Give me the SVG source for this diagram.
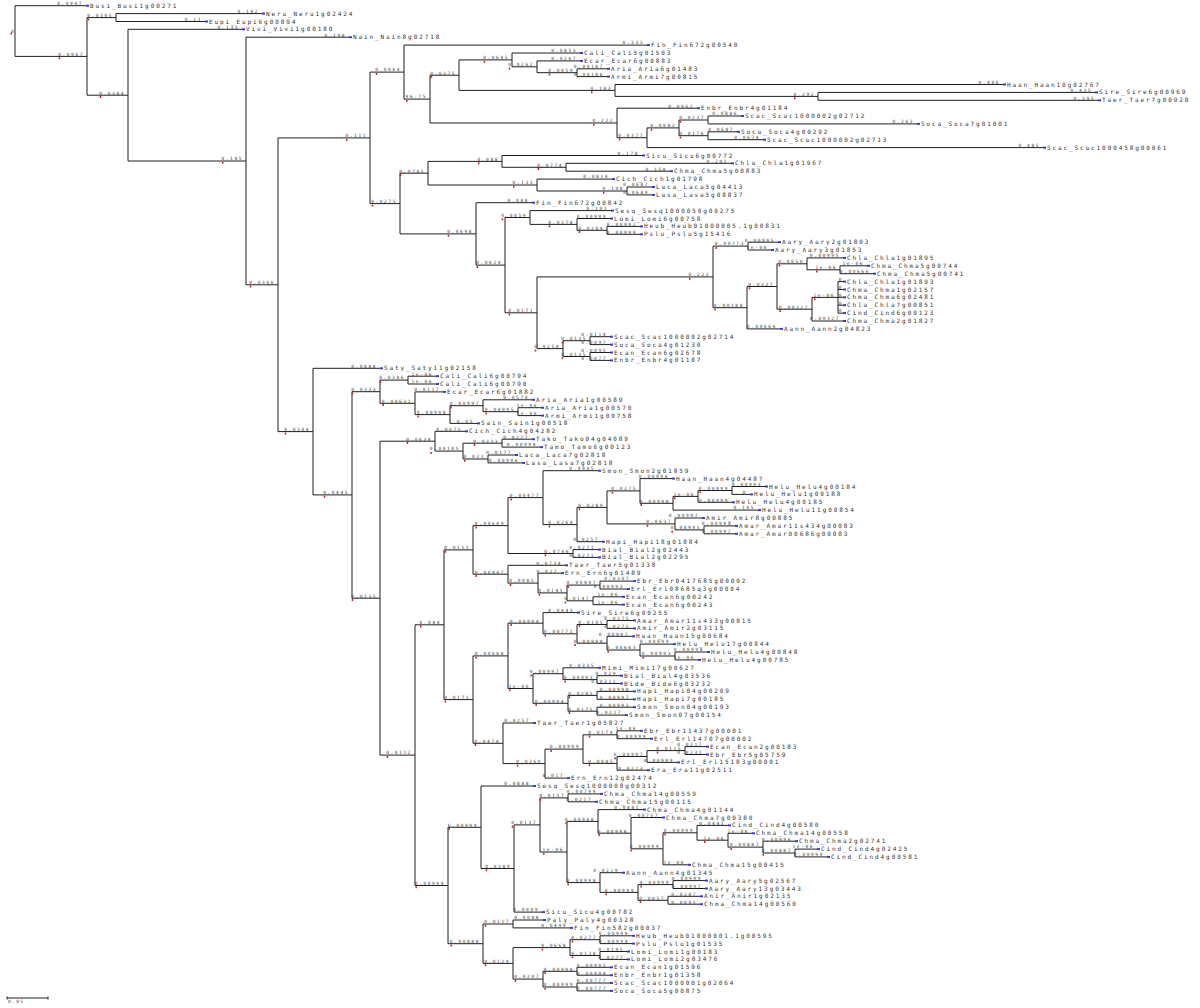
<svg xmlns="http://www.w3.org/2000/svg" width="1200" height="1008" viewBox="0 0 1200 1008">
<style>
.e{fill:none;stroke:#1e1e1e;stroke-width:1}
.rt{fill:#d42020}
.lf text{font-family:"DejaVu Sans Mono","Liberation Mono",monospace;font-size:6px;letter-spacing:1.9px;fill:#333}
.lb text{font-family:"DejaVu Sans Mono","Liberation Mono",monospace;font-size:4.5px;letter-spacing:1.6px;fill:#444;text-anchor:end}
.sc{font-family:"DejaVu Sans Mono","Liberation Mono",monospace;font-size:4.5px;letter-spacing:1.4px;fill:#444}
</style>
<defs><rect id="bm" width="3" height="2" fill="#3a3ad6"/></defs>
<rect width="1200" height="1008" fill="#fff"/>
<g id="connectors">
<path class="e" d="M15 5.7V56.4M87 17.6V95.2M116 13.6V21.5M128 29.3V161M246 37.2V284.8M278 137.9V431.6M370 72.1V203.6M404 45.1V99.1M430 75.2V123M459 59.9V90.4M512 53V66.8M537 60.9V72.7M577 68.8V76.6M615 84.5V96.4M818 92.4V100.3M617 108.2V137.7M647 127.9V147.6M679 120V135.7M708 116V123.9M708 131.8V139.7M400 173.2V233.9M428 161.4V185M502 155.5V167.3M566 163.3V171.2M537 179.1V191M627 187V194.9M476 202.7V265.1M505 217.5V312.8M530 210.6V224.4M577 218.5V230.3M607 226.4V234.3M537 276.9V348.6M713 246.1V307.7M748 242.2V250M747 286.5V328.9M777 263.8V309.2M807 257.9V269.8M840 265.8V273.7M812 297.4V321M838 281.6V313.1M563 340.7V356.5M590 336.7V344.6M590 352.5V360.4"/>
<path class="e" d="M313 368.3V494.9M352 391.7V598.2M380 380.1V403.3M408 376.2V384M415 391.9V414.6M450 405.7V423.4M483 399.8V411.7M518 407.7V415.6M380 441.2V755.1M435 431.3V451.1M463 443.2V459M502 439.2V447.1M488 455V462.9M415 624.8V885.5M444 549.9V699.6M473 525.6V574.2M508 497.6V553.5M543 470.7V524.6M577 507.4V541.7M607 490.9V523.9M640 478.6V503.3M673 496.4V510.1M698 490.5V502.3M732 486.5V494.4M675 518V529.9M704 525.9V533.8M573 549.6V557.4M508 565.3V583.1M538 573.2V592.9M567 585.1V600.8M600 581.1V589M593 596.8V604.7M473 655.9V743.3M508 623.2V688.5M543 612.6V633.8M577 624.5V643.2M607 620.5V628.4M607 636.3V650M640 644.1V656M675 652V659.9M533 673.7V703.3M563 667.8V679.6M597 675.7V683.5M568 695.4V711.2M597 691.4V699.3M597 707.2V715.1M503 723V763.6M545 749.1V778.1M583 734.8V763.4M617 730.8V738.7M617 756.5V770.2M647 750.6V762.4M685 746.6V754.5"/>
<path class="e" d="M448 827.3V943.7M481 786V868.5M514 824.9V912.1M540 797.9V852M568 793.9V801.8M567 821.4V882.6M598 809.6V833.2M631 817.5V848.8M663 832.8V864.8M697 825.4V840.2M728 833.3V847.1M763 841.2V853M795 849.1V856.9M600 872.7V892.4M638 884.6V900.3M673 880.6V888.5M668 896.3V904.2M483 924V963.4M513 920V927.9M513 947.6V979.1M570 939.7V955.5M600 935.8V943.6M600 951.5V959.4M543 971.3V987M577 967.3V975.2M577 983V990.9"/>
<path class="e" d="M15 5.7H86M15 56.4H87M87 17.6H116M116 13.6H262M116 21.5H205M87 95.2H128M128 29.3H242M128 161H246M246 37.2H349M246 284.8H278M278 137.9H370M370 72.1H404M404 45.1H647M404 99.1H430M430 75.2H459M459 59.9H512M512 53H580M512 66.8H537M537 60.9H580M537 72.7H577M577 68.8H607M577 76.6H607M459 90.4H615M615 84.5H1003M615 96.4H818M818 92.4H1095M818 100.3H1098M430 123H617M617 108.2H697M617 137.7H647M647 127.9H679M679 120H708M708 116H741M708 123.9H917M679 135.7H708M708 131.8H737M708 139.7H763M647 147.6H1043"/>
<path class="e" d="M370 203.6H400M400 173.2H428M428 161.4H502M502 155.5H642M502 167.3H566M566 163.3H731M566 171.2H670M428 185H537M537 179.1H612M537 191H627M627 187H652M627 194.9H652M400 233.9H476M476 202.7H532M476 265.1H505M505 217.5H530M530 210.6H611M530 224.4H577M577 218.5H610M577 230.3H607M607 226.4H640M607 234.3H640M505 312.8H537M537 276.9H713M713 246.1H748M748 242.2H778M748 250H771M713 307.7H747M747 286.5H777M777 263.8H807M807 257.9H843M807 269.8H840M840 265.8H867M840 273.7H873M777 309.2H812M812 297.4H838M838 281.6H843M838 289.5H843M838 297.3H843M838 305.2H843M838 313.1H843M812 321H843M747 328.9H780M537 348.6H563M563 340.7H590M590 336.7H610M590 344.6H610M563 356.5H590M590 352.5H610M590 360.4H610"/>
<path class="e" d="M278 431.6H313M313 368.3H380M313 494.9H352M352 391.7H380M380 380.1H408M408 376.2H436M408 384H436M380 403.3H415M415 391.9H443M415 414.6H450M450 405.7H483M483 399.8H532M483 411.7H518M518 407.7H541M518 415.6H541M450 423.4H477M352 598.2H380M380 441.2H435M435 431.3H465M435 451.1H463M463 443.2H502M502 439.2H532M502 447.1H540M463 459H488M488 455H515M488 462.9H522"/>
<path class="e" d="M380 755.1H415M415 624.8H444M444 549.9H473M473 525.6H508M508 497.6H543M543 470.7H598M543 524.6H577M577 507.4H607M607 490.9H640M640 478.6H672M640 503.3H673M673 496.4H698M698 490.5H732M732 486.5H765M732 494.4H750M698 502.3H732M673 510.1H758M607 523.9H675M675 518H702M675 529.9H704M704 525.9H735M704 533.8H735M577 541.7H602M508 553.5H573M573 549.6H598M573 557.4H598M473 574.2H508M508 565.3H565M508 583.1H538M538 573.2H561M538 592.9H567M567 585.1H600M600 581.1H633M600 589H627M567 600.8H593M593 596.8H622M593 604.7H622"/>
<path class="e" d="M444 699.6H473M473 655.9H508M508 623.2H543M543 612.6H577M543 633.8H577M577 624.5H607M607 620.5H633M607 628.4H633M577 643.2H607M607 636.3H632M607 650H640M640 644.1H673M640 656H675M675 652H707M675 659.9H698M508 688.5H533M533 673.7H563M563 667.8H598M563 679.6H597M597 675.7H620M597 683.5H620M533 703.3H568M568 695.4H597M597 691.4H633M597 699.3H633M568 711.2H597M597 707.2H633M597 715.1H625M473 743.3H503M503 723H533M503 763.6H545M545 749.1H583M583 734.8H617M617 730.8H640M617 738.7H650M583 763.4H617M617 756.5H647M647 750.6H685M685 746.6H706M685 754.5H706M647 762.4H677M617 770.2H647M545 778.1H567"/>
<path class="e" d="M415 885.5H448M448 827.3H481M481 786H533M481 868.5H514M514 824.9H540M540 797.9H568M568 793.9H600M568 801.8H595M540 852H567M567 821.4H598M598 809.6H643M598 833.2H631M631 817.5H662M631 848.8H663M663 832.8H697M697 825.4H728M697 840.2H728M728 833.3H752M728 847.1H763M763 841.2H795M763 853H795M795 849.1H817M795 856.9H827M663 864.8H688M567 882.6H600M600 872.7H622M600 892.4H638M638 884.6H673M673 880.6H705M673 888.5H705M638 900.3H668M668 896.3H700M668 904.2H700M514 912.1H542M448 943.7H483M483 924H513M513 920H543M513 927.9H570M483 963.4H513M513 947.6H570M570 939.7H600M600 935.8H632M600 943.6H632M570 955.5H600M600 951.5H627M600 959.4H627M513 979.1H543M543 971.3H577M577 967.3H610M577 975.2H610M543 987H577M577 983H610M577 990.9H610"/>
<path class="rt" d="M10.5 32.5h1.5v2h-1.5zM58.7 57.2h1.5v2h-1.5zM87.7 18.4h1.5v2h-1.5zM99.7 96h1.5v2h-1.5zM222 161.8h1.5v2h-1.5zM249.7 285.6h1.5v2h-1.5zM346 138.7h1.5v2h-1.5zM375.7 72.9h1.5v2h-1.5zM406 99.9h1.5v2h-1.5zM430.7 76h1.5v2h-1.5zM483.7 60.7h1.5v2h-1.5zM508.7 67.6h1.5v2h-1.5zM548.7 73.5h1.5v2h-1.5zM591 91.2h1.5v2h-1.5zM794 97.2h1.5v2h-1.5zM593 123.8h1.5v2h-1.5zM618.7 138.5h1.5v2h-1.5zM650.7 128.7h1.5v2h-1.5zM679.7 120.8h1.5v2h-1.5zM679.7 136.5h1.5v2h-1.5zM371.7 204.4h1.5v2h-1.5zM399.7 174h1.5v2h-1.5zM478 162.2h1.5v2h-1.5zM537.7 168.1h1.5v2h-1.5zM513 185.8h1.5v2h-1.5zM603 191.8h1.5v2h-1.5zM447.7 234.7h1.5v2h-1.5zM476.7 265.9h1.5v2h-1.5zM501.7 218.3h1.5v2h-1.5zM548.7 225.2h1.5v2h-1.5zM578.7 231.1h1.5v2h-1.5zM508.7 313.6h1.5v2h-1.5zM689 277.7h1.5v2h-1.5zM715.4 246.9h1.5v2h-1.5zM714.4 308.5h1.5v2h-1.5zM748.7 287.3h1.5v2h-1.5zM778.7 264.6h1.5v2h-1.5zM816 270.6h1.5v2h-1.5zM779.4 310h1.5v2h-1.5zM814 298.2h1.5v2h-1.5zM534.7 349.4h1.5v2h-1.5zM561.7 341.5h1.5v2h-1.5zM561.7 357.3h1.5v2h-1.5zM284.7 432.4h1.5v2h-1.5zM323.7 495.7h1.5v2h-1.5zM351.7 392.5h1.5v2h-1.5zM379.7 380.9h1.5v2h-1.5zM382.4 404.1h1.5v2h-1.5zM417.4 415.4h1.5v2h-1.5zM450.4 406.5h1.5v2h-1.5zM485.4 412.5h1.5v2h-1.5zM351.7 599h1.5v2h-1.5zM406.7 442h1.5v2h-1.5zM430.4 451.9h1.5v2h-1.5zM473.7 444h1.5v2h-1.5zM464 459.8h1.5v2h-1.5zM386.7 755.9h1.5v2h-1.5zM420 625.6h1.5v2h-1.5zM444.7 550.7h1.5v2h-1.5zM475.4 526.4h1.5v2h-1.5zM510.4 498.4h1.5v2h-1.5zM548.7 525.4h1.5v2h-1.5zM578.7 508.2h1.5v2h-1.5zM611.7 491.7h1.5v2h-1.5zM640.4 504.1h1.5v2h-1.5zM674 497.2h1.5v2h-1.5zM699.4 491.3h1.5v2h-1.5zM646.7 524.7h1.5v2h-1.5zM671.4 530.7h1.5v2h-1.5zM544.7 554.3h1.5v2h-1.5zM475.4 575h1.5v2h-1.5zM509.7 583.9h1.5v2h-1.5zM538.7 593.7h1.5v2h-1.5zM567.4 585.9h1.5v2h-1.5zM564.7 601.6h1.5v2h-1.5zM444.7 700.4h1.5v2h-1.5zM475.4 656.7h1.5v2h-1.5zM510.4 624h1.5v2h-1.5zM544.4 634.6h1.5v2h-1.5zM578.7 625.3h1.5v2h-1.5zM574.4 644h1.5v2h-1.5zM607.4 650.8h1.5v2h-1.5zM642.4 656.8h1.5v2h-1.5zM509 689.3h1.5v2h-1.5zM530.4 674.5h1.5v2h-1.5zM564.4 680.4h1.5v2h-1.5zM535.4 704.1h1.5v2h-1.5zM568.7 696.2h1.5v2h-1.5zM568.7 712h1.5v2h-1.5zM474.7 744.1h1.5v2h-1.5zM516.7 764.4h1.5v2h-1.5zM550.4 749.9h1.5v2h-1.5zM588.7 735.6h1.5v2h-1.5zM588.7 764.2h1.5v2h-1.5zM614.4 757.3h1.5v2h-1.5zM656.7 751.4h1.5v2h-1.5zM415.4 886.3h1.5v2h-1.5zM448.4 828.1h1.5v2h-1.5zM485.7 869.3h1.5v2h-1.5zM511.7 825.7h1.5v2h-1.5zM539.7 798.7h1.5v2h-1.5zM543 852.8h1.5v2h-1.5zM565.4 822.2h1.5v2h-1.5zM598.4 834h1.5v2h-1.5zM630.4 849.6h1.5v2h-1.5zM664.4 833.6h1.5v2h-1.5zM704 841h1.5v2h-1.5zM730.4 847.9h1.5v2h-1.5zM762.4 853.8h1.5v2h-1.5zM567.4 883.4h1.5v2h-1.5zM605.4 893.2h1.5v2h-1.5zM640.4 885.4h1.5v2h-1.5zM639.7 901.1h1.5v2h-1.5zM450.4 944.5h1.5v2h-1.5zM484.7 924.8h1.5v2h-1.5zM484.7 964.2h1.5v2h-1.5zM541.7 948.4h1.5v2h-1.5zM571.7 940.5h1.5v2h-1.5zM571.7 956.3h1.5v2h-1.5zM514.7 979.9h1.5v2h-1.5zM544.4 972.1h1.5v2h-1.5zM544.4 987.8h1.5v2h-1.5z"/>
</g>
<g id="branch-labels" class="lb">
<text x="11" y="33" style="text-anchor:start">0</text>
<text x="83" y="5">0.0967</text><text x="84" y="55.7">0.0967</text><text x="113" y="16.9">0.0305</text><text x="259" y="12.9">0.182</text><text x="202" y="20.8">0.11</text><text x="125" y="94.5">0.0384</text><text x="239" y="28.6">0.133</text><text x="243" y="160.3">0.145</text><text x="346" y="36.5">0.198</text><text x="275" y="284.1">0.0366</text><text x="367" y="137.2">0.111</text><text x="401" y="71.4">0.0064</text><text x="644" y="44.4">0.333</text><text x="427" y="98.4">96.75</text><text x="456" y="74.5">0.0375</text><text x="509" y="59.2">0.0645</text><text x="577" y="52.3">0.0853</text><text x="534" y="66.1">0.0262</text><text x="577" y="60.2">0.0267</text><text x="574" y="72">0.0459</text><text x="604" y="68.1">0.00187</text><text x="604" y="75.9">0.00186</text><text x="612" y="89.7">0.183</text><text x="1000" y="83.8">0.486</text><text x="815" y="95.7">0.292</text><text x="1092" y="91.7">0.435</text><text x="1095" y="99.6">0.395</text><text x="614" y="122.3">0.222</text><text x="694" y="107.5">0.0962</text><text x="644" y="137">0.0377</text><text x="676" y="127.2">0.0083</text><text x="705" y="119.3">0.0237</text><text x="738" y="115.3">0.0886</text><text x="914" y="123.2">0.262</text><text x="705" y="135">0.0176</text><text x="734" y="131.1">0.0687</text><text x="760" y="139">0.0674</text><text x="1040" y="146.9">0.485</text>
<text x="397" y="202.9">0.0275</text><text x="425" y="172.5">0.0785</text><text x="499" y="160.7">0.088</text><text x="639" y="154.8">0.178</text><text x="563" y="166.6">0.0774</text><text x="728" y="162.6">0.201</text><text x="667" y="170.5">0.158</text><text x="534" y="184.3">0.133</text><text x="609" y="178.4">0.0814</text><text x="624" y="190.3">0.108</text><text x="649" y="186.3">0.0687</text><text x="649" y="194.2">0.0689</text><text x="473" y="233.2">0.0698</text><text x="529" y="202">0.088</text><text x="502" y="264.4">0.0624</text><text x="527" y="216.8">0.0059</text><text x="608" y="209.9">0.101</text><text x="574" y="223.7">0.0378</text><text x="607" y="217.8">0.00999</text><text x="604" y="229.6">0.0209</text><text x="637" y="225.7">0.00992</text><text x="637" y="233.6">0.00999</text><text x="534" y="312.1">0.0171</text><text x="710" y="276.2">0.222</text><text x="745" y="245.4">0.00773</text><text x="775" y="241.5">0.00995</text><text x="768" y="249.3">1e-06</text><text x="744" y="307">0.00188</text><text x="774" y="285.8">0.0327</text><text x="804" y="263.1">0.0050</text><text x="840" y="257.2">0.00995</text><text x="837" y="269.1">1e-06</text><text x="864" y="265.1">1e-06</text><text x="870" y="273">0.00666</text><text x="809" y="308.5">0.00327</text><text x="835" y="296.7">1e-06</text><text x="843" y="280.9">0</text><text x="843" y="288.8">0</text><text x="843" y="296.6">0</text><text x="843" y="304.5">0</text><text x="843" y="312.4">0</text><text x="840" y="320.3">0.00327</text><text x="777" y="328.2">0.00666</text><text x="560" y="347.9">0.0254</text><text x="587" y="340">0.0135</text><text x="607" y="336">0.0114</text><text x="607" y="343.9">0.0097</text><text x="587" y="355.8">0.0135</text><text x="607" y="351.8">0.0095</text><text x="607" y="359.7">0.0077</text>
<text x="310" y="430.9">0.0304</text><text x="377" y="367.6">0.0888</text><text x="349" y="494.2">0.0445</text><text x="377" y="391">0.0333</text><text x="405" y="379.4">0.0386</text><text x="433" y="375.5">1e-06</text><text x="433" y="383.3">1e-06</text><text x="412" y="402.6">0.00631</text><text x="440" y="391.2">0.0117</text><text x="447" y="413.9">0.00998</text><text x="480" y="405">0.00997</text><text x="529" y="399.1">0.0570</text><text x="515" y="411">0.00995</text><text x="538" y="407">1e-06</text><text x="538" y="414.9">1e-06</text><text x="474" y="422.7">0.05</text><text x="377" y="597.5">0.0135</text><text x="432" y="440.5">0.0634</text><text x="462" y="430.6">0.0075</text><text x="460" y="450.4">0.00105</text><text x="499" y="442.5">0.0333</text><text x="529" y="438.5">0.0277</text><text x="537" y="446.4">0.00994</text><text x="485" y="458.3">0.021</text><text x="512" y="454.3">0.0177</text><text x="519" y="462.2">0.00996</text>
<text x="412" y="754.4">0.0112</text><text x="441" y="624.1">0.084</text><text x="470" y="549.2">0.0151</text><text x="505" y="524.9">0.00649</text><text x="540" y="496.9">0.00477</text><text x="595" y="470">0.0905</text><text x="574" y="523.9">0.0264</text><text x="604" y="506.7">0.0289</text><text x="637" y="490.2">0.0275</text><text x="669" y="477.9">0.00996</text><text x="670" y="502.6">0.00998</text><text x="695" y="495.7">1e-06</text><text x="729" y="489.8">0.00999</text><text x="762" y="485.8">0.00993</text><text x="747" y="493.7">0</text><text x="729" y="501.6">0.00999</text><text x="755" y="509.4">0.105</text><text x="672" y="523.2">0.0637</text><text x="699" y="517.3">0.00997</text><text x="701" y="529.2">0.00995</text><text x="732" y="525.2">0.00994</text><text x="732" y="533.1">0.00997</text><text x="599" y="541">0.0257</text><text x="570" y="552.8">0.0766</text><text x="595" y="548.9">0.0271</text><text x="595" y="556.7">0.0271</text><text x="505" y="573.5">0.00447</text><text x="562" y="564.6">0.0734</text><text x="535" y="582.4">0.0085</text><text x="558" y="572.5">0.027</text><text x="564" y="592.2">0.0145</text><text x="597" y="584.4">0.00447</text><text x="630" y="580.4">0.0307</text><text x="624" y="588.3">0.00993</text><text x="590" y="600.1">0.0147</text><text x="619" y="596.1">1e-06</text><text x="619" y="604">1e-06</text>
<text x="470" y="698.9">0.0171</text><text x="505" y="655.2">0.00668</text><text x="540" y="622.5">0.00994</text><text x="574" y="611.9">0.0443</text><text x="574" y="633.1">0.00771</text><text x="604" y="623.8">0.0105</text><text x="630" y="619.8">0.0375</text><text x="630" y="627.7">0.0275</text><text x="604" y="642.5">0.00998</text><text x="629" y="635.6">0.00997</text><text x="637" y="649.3">0.00663</text><text x="670" y="643.4">0.00999</text><text x="672" y="655.3">0.00993</text><text x="704" y="651.3">0.00998</text><text x="695" y="659.2">1e-06</text><text x="530" y="687.8">1e-06</text><text x="560" y="673">0.00997</text><text x="595" y="667.1">0.0335</text><text x="594" y="678.9">0.00993</text><text x="617" y="675">0.029</text><text x="617" y="682.8">0.0311</text><text x="565" y="702.6">0.00994</text><text x="594" y="694.7">0.0285</text><text x="630" y="690.7">0.00998</text><text x="630" y="698.6">0.00997</text><text x="594" y="710.5">0.0175</text><text x="630" y="706.5">0.00993</text><text x="622" y="714.4">0.0217</text><text x="500" y="742.6">0.0474</text><text x="530" y="722.3">0.0257</text><text x="542" y="762.9">0.0360</text><text x="580" y="748.4">0.00999</text><text x="614" y="734.1">0.0174</text><text x="637" y="730.1">1e-06</text><text x="647" y="738">0.00999</text><text x="614" y="762.7">0.0085</text><text x="644" y="755.8">0.00997</text><text x="682" y="749.9">0.0115</text><text x="703" y="745.9">0.0217</text><text x="703" y="753.8">0.0231</text><text x="674" y="761.7">0.00999</text><text x="644" y="769.5">0.0213</text><text x="564" y="777.4">0.017</text>
<text x="445" y="884.8">0.00999</text><text x="478" y="826.6">0.00999</text><text x="530" y="785.3">0.0888</text><text x="511" y="867.8">0.0389</text><text x="537" y="824.2">0.0137</text><text x="565" y="797.2">0.0157</text><text x="597" y="793.2">0.00799</text><text x="592" y="801.1">0.0217</text><text x="564" y="851.3">1e-06</text><text x="595" y="820.7">0.00948</text><text x="640" y="808.9">0.0881</text><text x="628" y="832.5">0.00998</text><text x="659" y="816.8">0.00757</text><text x="660" y="848.1">0.00999</text><text x="694" y="832.1">0.00999</text><text x="725" y="824.7">0.0441</text><text x="725" y="839.5">1e-06</text><text x="749" y="832.6">1e-06</text><text x="760" y="846.4">0.00887</text><text x="792" y="840.5">0.00996</text><text x="792" y="852.3">0.00887</text><text x="814" y="848.4">1e-06</text><text x="824" y="856.2">0.00999</text><text x="685" y="864.1">1e-06</text><text x="597" y="881.9">0.00998</text><text x="619" y="872">0.0219</text><text x="635" y="891.7">0.00999</text><text x="670" y="883.9">0.00999</text><text x="702" y="879.9">0.00999</text><text x="702" y="887.8">0.00997</text><text x="665" y="899.6">0.0057</text><text x="697" y="895.6">0.0287</text><text x="697" y="903.5">0.0095</text><text x="539" y="911.4">0.0009</text><text x="480" y="943">0.00888</text><text x="510" y="923.3">0.0117</text><text x="540" y="919.3">0.0088</text><text x="567" y="927.2">0.0499</text><text x="510" y="962.7">0.0129</text><text x="567" y="946.9">0.0668</text><text x="597" y="939">0.0277</text><text x="629" y="935.1">0.00999</text><text x="629" y="942.9">0.00994</text><text x="597" y="954.8">0.0138</text><text x="624" y="950.8">0.0195</text><text x="624" y="958.7">0.0277</text><text x="540" y="978.4">0.0207</text><text x="574" y="970.6">0.00998</text><text x="607" y="966.6">0.00995</text><text x="607" y="974.5">0.00994</text><text x="574" y="986.3">0.00999</text><text x="607" y="982.3">0.00777</text><text x="607" y="990.2">0.00777</text>
</g>
<g id="leaves" class="lf">
<g id="leaf-Busi_Busi1g00271"><use href="#bm" x="86" y="4.7"/><text x="90" y="7.7">Busi_Busi1g00271</text></g>
<g id="leaf-Neru_Neru1g02424"><use href="#bm" x="262" y="12.6"/><text x="266" y="15.6">Neru_Neru1g02424</text></g>
<g id="leaf-Eupi_Eupi6g00894"><use href="#bm" x="205" y="20.5"/><text x="209" y="23.5">Eupi_Eupi6g00894</text></g>
<g id="leaf-Vivi_Vivi1g00180"><use href="#bm" x="242" y="28.3"/><text x="246" y="31.3">Vivi_Vivi1g00180</text></g>
<g id="leaf-Nain_Nain8g02718"><use href="#bm" x="349" y="36.2"/><text x="353" y="39.2">Nain_Nain8g02718</text></g>
<g id="leaf-Fin_Fin672g00540"><use href="#bm" x="647" y="44.1"/><text x="651" y="47.1">Fin_Fin672g00540</text></g>
<g id="leaf-Cali_Cali5g01503"><use href="#bm" x="580" y="52"/><text x="584" y="55">Cali_Cali5g01503</text></g>
<g id="leaf-Ecar_Ecar6g00883"><use href="#bm" x="580" y="59.9"/><text x="584" y="62.9">Ecar_Ecar6g00883</text></g>
<g id="leaf-Aria_Aria6g01483"><use href="#bm" x="607" y="67.8"/><text x="611" y="70.8">Aria_Aria6g01483</text></g>
<g id="leaf-Armi_Armi7g00815"><use href="#bm" x="607" y="75.6"/><text x="611" y="78.6">Armi_Armi7g00815</text></g>
<g id="leaf-Haan_Haan10g02767"><use href="#bm" x="1003" y="83.5"/><text x="1007" y="86.5">Haan_Haan10g02767</text></g>
<g id="leaf-Sire_Sire6g00969"><use href="#bm" x="1095" y="91.4"/><text x="1099" y="94.4">Sire_Sire6g00969</text></g>
<g id="leaf-Taer_Taer7g00928"><use href="#bm" x="1098" y="99.3"/><text x="1102" y="102.3">Taer_Taer7g00928</text></g>
<g id="leaf-Enbr_Enbr4g01184"><use href="#bm" x="697" y="107.2"/><text x="701" y="110.2">Enbr_Enbr4g01184</text></g>
<g id="leaf-Scac_Scac1000002g02712"><use href="#bm" x="741" y="115"/><text x="745" y="118">Scac_Scac1000002g02712</text></g>
<g id="leaf-Soca_Soca7g01001"><use href="#bm" x="917" y="122.9"/><text x="921" y="125.9">Soca_Soca7g01001</text></g>
<g id="leaf-Soca_Soca4g00292"><use href="#bm" x="737" y="130.8"/><text x="741" y="133.8">Soca_Soca4g00292</text></g>
<g id="leaf-Scac_Scac1000002g02713"><use href="#bm" x="763" y="138.7"/><text x="767" y="141.7">Scac_Scac1000002g02713</text></g>
<g id="leaf-Scac_Scac1000458g00061"><use href="#bm" x="1043" y="146.6"/><text x="1047" y="149.6">Scac_Scac1000458g00061</text></g>
<g id="leaf-Sicu_Sicu6g00772"><use href="#bm" x="642" y="154.5"/><text x="646" y="157.5">Sicu_Sicu6g00772</text></g>
<g id="leaf-Chla_Chla1g01967"><use href="#bm" x="731" y="162.3"/><text x="735" y="165.3">Chla_Chla1g01967</text></g>
<g id="leaf-Chma_Chma5g00883"><use href="#bm" x="670" y="170.2"/><text x="674" y="173.2">Chma_Chma5g00883</text></g>
<g id="leaf-Cich_Cich1g01798"><use href="#bm" x="612" y="178.1"/><text x="616" y="181.1">Cich_Cich1g01798</text></g>
<g id="leaf-Laca_Laca5g04413"><use href="#bm" x="652" y="186"/><text x="656" y="189">Laca_Laca5g04413</text></g>
<g id="leaf-Lasa_Lasa5g08837"><use href="#bm" x="652" y="193.9"/><text x="656" y="196.9">Lasa_Lasa5g08837</text></g>
<g id="leaf-Fin_Fin672g00842"><use href="#bm" x="532" y="201.7"/><text x="536" y="204.7">Fin_Fin672g00842</text></g>
<g id="leaf-Sesq_Sesq1000050g00275"><use href="#bm" x="611" y="209.6"/><text x="615" y="212.6">Sesq_Sesq1000050g00275</text></g>
<g id="leaf-Lomi_Lomi6g00758"><use href="#bm" x="610" y="217.5"/><text x="614" y="220.5">Lomi_Lomi6g00758</text></g>
<g id="leaf-Heub_Heub01000005.1g00831"><use href="#bm" x="640" y="225.4"/><text x="644" y="228.4">Heub_Heub01000005.1g00831</text></g>
<g id="leaf-Pslu_Pslu5g15416"><use href="#bm" x="640" y="233.3"/><text x="644" y="236.3">Pslu_Pslu5g15416</text></g>
<g id="leaf-Aary_Aary2g01803"><use href="#bm" x="778" y="241.2"/><text x="782" y="244.2">Aary_Aary2g01803</text></g>
<g id="leaf-Aary_Aary3g01853"><use href="#bm" x="771" y="249"/><text x="775" y="252">Aary_Aary3g01853</text></g>
<g id="leaf-Chla_Chla1g01895"><use href="#bm" x="843" y="256.9"/><text x="847" y="259.9">Chla_Chla1g01895</text></g>
<g id="leaf-Chma_Chma5g00744"><use href="#bm" x="867" y="264.8"/><text x="871" y="267.8">Chma_Chma5g00744</text></g>
<g id="leaf-Chma_Chma5g00741"><use href="#bm" x="873" y="272.7"/><text x="877" y="275.7">Chma_Chma5g00741</text></g>
<g id="leaf-Chla_Chla1g01893"><use href="#bm" x="843" y="280.6"/><text x="847" y="283.6">Chla_Chla1g01893</text></g>
<g id="leaf-Chma_Chma1g02157"><use href="#bm" x="843" y="288.5"/><text x="847" y="291.5">Chma_Chma1g02157</text></g>
<g id="leaf-Chma_Chma6g02481"><use href="#bm" x="843" y="296.3"/><text x="847" y="299.3">Chma_Chma6g02481</text></g>
<g id="leaf-Chla_Chla7g00851"><use href="#bm" x="843" y="304.2"/><text x="847" y="307.2">Chla_Chla7g00851</text></g>
<g id="leaf-Cind_Cind6g00123"><use href="#bm" x="843" y="312.1"/><text x="847" y="315.1">Cind_Cind6g00123</text></g>
<g id="leaf-Chma_Chma2g01827"><use href="#bm" x="843" y="320"/><text x="847" y="323">Chma_Chma2g01827</text></g>
<g id="leaf-Aann_Aann2g04823"><use href="#bm" x="780" y="327.9"/><text x="784" y="330.9">Aann_Aann2g04823</text></g>
<g id="leaf-Scac_Scac1000002g02714"><use href="#bm" x="610" y="335.7"/><text x="614" y="338.7">Scac_Scac1000002g02714</text></g>
<g id="leaf-Soca_Soca4g01230"><use href="#bm" x="610" y="343.6"/><text x="614" y="346.6">Soca_Soca4g01230</text></g>
<g id="leaf-Ecan_Ecan6g02678"><use href="#bm" x="610" y="351.5"/><text x="614" y="354.5">Ecan_Ecan6g02678</text></g>
<g id="leaf-Enbr_Enbr4g01187"><use href="#bm" x="610" y="359.4"/><text x="614" y="362.4">Enbr_Enbr4g01187</text></g>
<g id="leaf-Saty_Saty11g02158"><use href="#bm" x="380" y="367.3"/><text x="384" y="370.3">Saty_Saty11g02158</text></g>
<g id="leaf-Cali_Cali6g00794"><use href="#bm" x="436" y="375.2"/><text x="440" y="378.2">Cali_Cali6g00794</text></g>
<g id="leaf-Cali_Cali6g00790"><use href="#bm" x="436" y="383"/><text x="440" y="386">Cali_Cali6g00790</text></g>
<g id="leaf-Ecar_Ecar6g01882"><use href="#bm" x="443" y="390.9"/><text x="447" y="393.9">Ecar_Ecar6g01882</text></g>
<g id="leaf-Aria_Aria1g00589"><use href="#bm" x="532" y="398.8"/><text x="536" y="401.8">Aria_Aria1g00589</text></g>
<g id="leaf-Aria_Aria1g00570"><use href="#bm" x="541" y="406.7"/><text x="545" y="409.7">Aria_Aria1g00570</text></g>
<g id="leaf-Armi_Armi1g00758"><use href="#bm" x="541" y="414.6"/><text x="545" y="417.6">Armi_Armi1g00758</text></g>
<g id="leaf-Sain_Sain1g00518"><use href="#bm" x="477" y="422.4"/><text x="481" y="425.4">Sain_Sain1g00518</text></g>
<g id="leaf-Cich_Cich4g04282"><use href="#bm" x="465" y="430.3"/><text x="469" y="433.3">Cich_Cich4g04282</text></g>
<g id="leaf-Tako_Tako04g04089"><use href="#bm" x="532" y="438.2"/><text x="536" y="441.2">Tako_Tako04g04089</text></g>
<g id="leaf-Tamo_Tamo6g00123"><use href="#bm" x="540" y="446.1"/><text x="544" y="449.1">Tamo_Tamo6g00123</text></g>
<g id="leaf-Laca_Laca7g02818"><use href="#bm" x="515" y="454"/><text x="519" y="457">Laca_Laca7g02818</text></g>
<g id="leaf-Lasa_Lasa7g02818"><use href="#bm" x="522" y="461.9"/><text x="526" y="464.9">Lasa_Lasa7g02818</text></g>
<g id="leaf-Smon_Smon2g01859"><use href="#bm" x="598" y="469.7"/><text x="602" y="472.7">Smon_Smon2g01859</text></g>
<g id="leaf-Haan_Haan4g04487"><use href="#bm" x="672" y="477.6"/><text x="676" y="480.6">Haan_Haan4g04487</text></g>
<g id="leaf-Helu_Helu4g00184"><use href="#bm" x="765" y="485.5"/><text x="769" y="488.5">Helu_Helu4g00184</text></g>
<g id="leaf-Helu_Helu1g00188"><use href="#bm" x="750" y="493.4"/><text x="754" y="496.4">Helu_Helu1g00188</text></g>
<g id="leaf-Helu_Helu4g00185"><use href="#bm" x="732" y="501.3"/><text x="736" y="504.3">Helu_Helu4g00185</text></g>
<g id="leaf-Helu_Helu11g00854"><use href="#bm" x="758" y="509.1"/><text x="762" y="512.1">Helu_Helu11g00854</text></g>
<g id="leaf-Amir_Amir8g00885"><use href="#bm" x="702" y="517"/><text x="706" y="520">Amir_Amir8g00885</text></g>
<g id="leaf-Amar_Amar11s434g00083"><use href="#bm" x="735" y="524.9"/><text x="739" y="527.9">Amar_Amar11s434g00083</text></g>
<g id="leaf-Amar_Amar00686g00083"><use href="#bm" x="735" y="532.8"/><text x="739" y="535.8">Amar_Amar00686g00083</text></g>
<g id="leaf-Hapi_Hapi18g01884"><use href="#bm" x="602" y="540.7"/><text x="606" y="543.7">Hapi_Hapi18g01884</text></g>
<g id="leaf-Bial_Bial2g02443"><use href="#bm" x="598" y="548.6"/><text x="602" y="551.6">Bial_Bial2g02443</text></g>
<g id="leaf-Bial_Bial2g02295"><use href="#bm" x="598" y="556.4"/><text x="602" y="559.4">Bial_Bial2g02295</text></g>
<g id="leaf-Taer_Taer5g01338"><use href="#bm" x="565" y="564.3"/><text x="569" y="567.3">Taer_Taer5g01338</text></g>
<g id="leaf-Ern_Ern6g01489"><use href="#bm" x="561" y="572.2"/><text x="565" y="575.2">Ern_Ern6g01489</text></g>
<g id="leaf-Ebr_Ebr0417685g00002"><use href="#bm" x="633" y="580.1"/><text x="637" y="583.1">Ebr_Ebr0417685g00002</text></g>
<g id="leaf-Erl_Erl08685q3g00004"><use href="#bm" x="627" y="588"/><text x="631" y="591">Erl_Erl08685q3g00004</text></g>
<g id="leaf-Ecan_Ecan6g00242"><use href="#bm" x="622" y="595.8"/><text x="626" y="598.8">Ecan_Ecan6g00242</text></g>
<g id="leaf-Ecan_Ecan6g00243"><use href="#bm" x="622" y="603.7"/><text x="626" y="606.7">Ecan_Ecan6g00243</text></g>
<g id="leaf-Sire_Sire6g00255"><use href="#bm" x="577" y="611.6"/><text x="581" y="614.6">Sire_Sire6g00255</text></g>
<g id="leaf-Amar_Amar11s433g00815"><use href="#bm" x="633" y="619.5"/><text x="637" y="622.5">Amar_Amar11s433g00815</text></g>
<g id="leaf-Amir_Amir2g03115"><use href="#bm" x="633" y="627.4"/><text x="637" y="630.4">Amir_Amir2g03115</text></g>
<g id="leaf-Haan_Haan15g00684"><use href="#bm" x="632" y="635.3"/><text x="636" y="638.3">Haan_Haan15g00684</text></g>
<g id="leaf-Helu_Helu17g00844"><use href="#bm" x="673" y="643.1"/><text x="677" y="646.1">Helu_Helu17g00844</text></g>
<g id="leaf-Helu_Helu4g00848"><use href="#bm" x="707" y="651"/><text x="711" y="654">Helu_Helu4g00848</text></g>
<g id="leaf-Helu_Helu4g00785"><use href="#bm" x="698" y="658.9"/><text x="702" y="661.9">Helu_Helu4g00785</text></g>
<g id="leaf-Mimi_Mimi17g00627"><use href="#bm" x="598" y="666.8"/><text x="602" y="669.8">Mimi_Mimi17g00627</text></g>
<g id="leaf-Bial_Bial4g03536"><use href="#bm" x="620" y="674.7"/><text x="624" y="677.7">Bial_Bial4g03536</text></g>
<g id="leaf-Bide_Bide6g03232"><use href="#bm" x="620" y="682.5"/><text x="624" y="685.5">Bide_Bide6g03232</text></g>
<g id="leaf-Hapi_Hapi04g00209"><use href="#bm" x="633" y="690.4"/><text x="637" y="693.4">Hapi_Hapi04g00209</text></g>
<g id="leaf-Hapi_Hapi7g00185"><use href="#bm" x="633" y="698.3"/><text x="637" y="701.3">Hapi_Hapi7g00185</text></g>
<g id="leaf-Smon_Smon04g00193"><use href="#bm" x="633" y="706.2"/><text x="637" y="709.2">Smon_Smon04g00193</text></g>
<g id="leaf-Smon_Smon07g00154"><use href="#bm" x="625" y="714.1"/><text x="629" y="717.1">Smon_Smon07g00154</text></g>
<g id="leaf-Taer_Taer1g05827"><use href="#bm" x="533" y="722"/><text x="537" y="725">Taer_Taer1g05827</text></g>
<g id="leaf-Ebr_Ebr11437g00001"><use href="#bm" x="640" y="729.8"/><text x="644" y="732.8">Ebr_Ebr11437g00001</text></g>
<g id="leaf-Erl_Erl14707g00002"><use href="#bm" x="650" y="737.7"/><text x="654" y="740.7">Erl_Erl14707g00002</text></g>
<g id="leaf-Ecan_Ecan2g00183"><use href="#bm" x="706" y="745.6"/><text x="710" y="748.6">Ecan_Ecan2g00183</text></g>
<g id="leaf-Ebr_Ebr5g05759"><use href="#bm" x="706" y="753.5"/><text x="710" y="756.5">Ebr_Ebr5g05759</text></g>
<g id="leaf-Erl_Erl15183g00001"><use href="#bm" x="677" y="761.4"/><text x="681" y="764.4">Erl_Erl15183g00001</text></g>
<g id="leaf-Era_Era11g02511"><use href="#bm" x="647" y="769.2"/><text x="651" y="772.2">Era_Era11g02511</text></g>
<g id="leaf-Ern_Ern12g02474"><use href="#bm" x="567" y="777.1"/><text x="571" y="780.1">Ern_Ern12g02474</text></g>
<g id="leaf-Sesq_Sesq1000008g00312"><use href="#bm" x="533" y="785"/><text x="537" y="788">Sesq_Sesq1000008g00312</text></g>
<g id="leaf-Chma_Chma14g00559"><use href="#bm" x="600" y="792.9"/><text x="604" y="795.9">Chma_Chma14g00559</text></g>
<g id="leaf-Chma_Chma15g00115"><use href="#bm" x="595" y="800.8"/><text x="599" y="803.8">Chma_Chma15g00115</text></g>
<g id="leaf-Chma_Chma4g01144"><use href="#bm" x="643" y="808.6"/><text x="647" y="811.6">Chma_Chma4g01144</text></g>
<g id="leaf-Chma_Chma7g00380"><use href="#bm" x="662" y="816.5"/><text x="666" y="819.5">Chma_Chma7g00380</text></g>
<g id="leaf-Cind_Cind4g00580"><use href="#bm" x="728" y="824.4"/><text x="732" y="827.4">Cind_Cind4g00580</text></g>
<g id="leaf-Chma_Chma14g00558"><use href="#bm" x="752" y="832.3"/><text x="756" y="835.3">Chma_Chma14g00558</text></g>
<g id="leaf-Chma_Chma2g02741"><use href="#bm" x="795" y="840.2"/><text x="799" y="843.2">Chma_Chma2g02741</text></g>
<g id="leaf-Cind_Cind4g02425"><use href="#bm" x="817" y="848.1"/><text x="821" y="851.1">Cind_Cind4g02425</text></g>
<g id="leaf-Cind_Cind4g00581"><use href="#bm" x="827" y="855.9"/><text x="831" y="858.9">Cind_Cind4g00581</text></g>
<g id="leaf-Chma_Chma15g00415"><use href="#bm" x="688" y="863.8"/><text x="692" y="866.8">Chma_Chma15g00415</text></g>
<g id="leaf-Aann_Aann4g01345"><use href="#bm" x="622" y="871.7"/><text x="626" y="874.7">Aann_Aann4g01345</text></g>
<g id="leaf-Aary_Aary5g02567"><use href="#bm" x="705" y="879.6"/><text x="709" y="882.6">Aary_Aary5g02567</text></g>
<g id="leaf-Aary_Aary13g03443"><use href="#bm" x="705" y="887.5"/><text x="709" y="890.5">Aary_Aary13g03443</text></g>
<g id="leaf-Anir_Anir1g02135"><use href="#bm" x="700" y="895.3"/><text x="704" y="898.3">Anir_Anir1g02135</text></g>
<g id="leaf-Chma_Chma14g00560"><use href="#bm" x="700" y="903.2"/><text x="704" y="906.2">Chma_Chma14g00560</text></g>
<g id="leaf-Sicu_Sicu4g00782"><use href="#bm" x="542" y="911.1"/><text x="546" y="914.1">Sicu_Sicu4g00782</text></g>
<g id="leaf-Paly_Paly4g00328"><use href="#bm" x="543" y="919"/><text x="547" y="922">Paly_Paly4g00328</text></g>
<g id="leaf-Fin_Fin582g00037"><use href="#bm" x="570" y="926.9"/><text x="574" y="929.9">Fin_Fin582g00037</text></g>
<g id="leaf-Heub_Heub01000001.1g00595"><use href="#bm" x="632" y="934.8"/><text x="636" y="937.8">Heub_Heub01000001.1g00595</text></g>
<g id="leaf-Pslu_Pslu1g01535"><use href="#bm" x="632" y="942.6"/><text x="636" y="945.6">Pslu_Pslu1g01535</text></g>
<g id="leaf-Lomi_Lomi1g00183"><use href="#bm" x="627" y="950.5"/><text x="631" y="953.5">Lomi_Lomi1g00183</text></g>
<g id="leaf-Lomi_Lomi2g03476"><use href="#bm" x="627" y="958.4"/><text x="631" y="961.4">Lomi_Lomi2g03476</text></g>
<g id="leaf-Ecan_Ecan1g01596"><use href="#bm" x="610" y="966.3"/><text x="614" y="969.3">Ecan_Ecan1g01596</text></g>
<g id="leaf-Enbr_Enbr1g01358"><use href="#bm" x="610" y="974.2"/><text x="614" y="977.2">Enbr_Enbr1g01358</text></g>
<g id="leaf-Scac_Scac1000001g02064"><use href="#bm" x="610" y="982"/><text x="614" y="985">Scac_Scac1000001g02064</text></g>
<g id="leaf-Soca_Soca5g00875"><use href="#bm" x="610" y="989.9"/><text x="614" y="992.9">Soca_Soca5g00875</text></g>
</g>
<g id="scale-bar">
<path class="e" d="M7 998H48M7 996.5V999.5M48 996.5V999.5" stroke="#888"/>
<text class="sc" x="8" y="1003">0.05</text>
</g>
</svg>
